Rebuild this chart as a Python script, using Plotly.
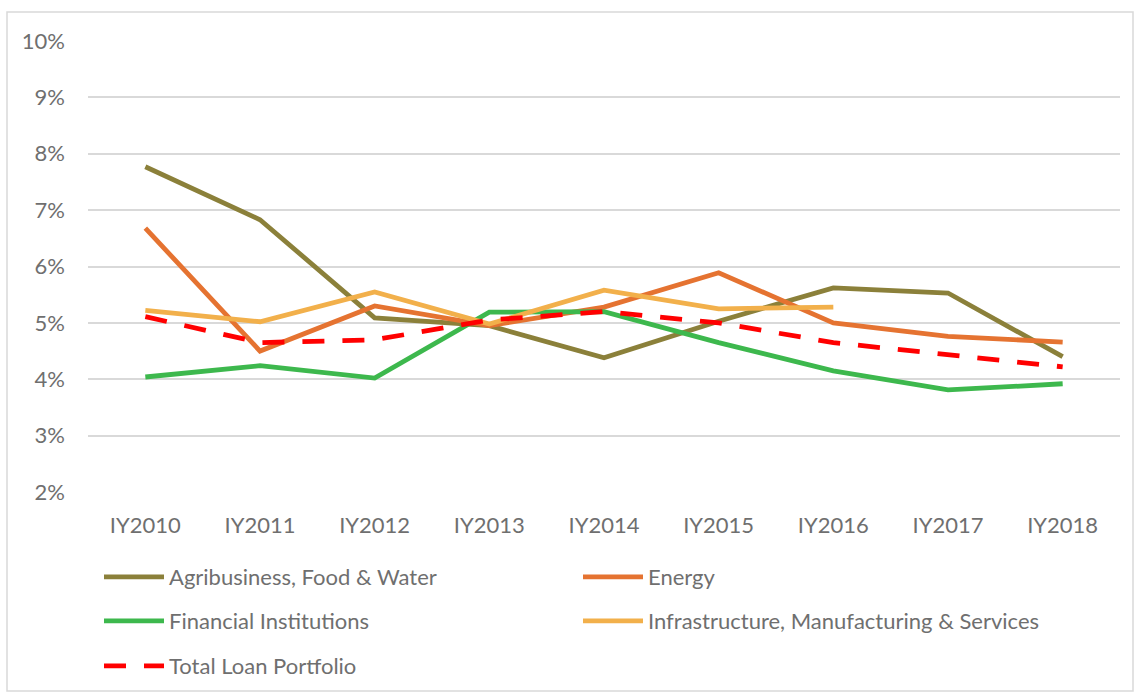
import plotly.graph_objects as go

categories = ["IY2010", "IY2011", "IY2012", "IY2013", "IY2014", "IY2015", "IY2016", "IY2017", "IY2018"]
agri = [7.77, 6.83, 5.09, 4.95, 4.38, 5.03, 5.62, 5.53, 4.40]
energy = [6.68, 4.50, 5.30, 4.95, 5.28, 5.89, 5.00, 4.76, 4.66]
financial = [4.04, 4.24, 4.02, 5.19, 5.20, 4.65, 4.15, 3.81, 3.92]
infra = [5.22, 5.02, 5.55, 4.98, 5.58, 5.25, 5.28, None, None]
total = [5.11, 4.65, 4.70, 5.05, 5.20, 5.00, 4.65, 4.43, 4.22]
y_ticks = [2, 3, 4, 5, 6, 7, 8, 9, 10]
y_tick_labels = ["2%", "3%", "4%", "5%", "6%", "7%", "8%", "9%", "10%"]

FONT = "Lato, Carlito, Liberation Sans, sans-serif"
GRAY = "#6F6F6F"
FS = 22

fig = go.Figure()
series = [
    ("Agribusiness, Food & Water", agri, "#8B803A", "solid", "legend"),
    ("Energy", energy, "#E57331", "solid", "legend"),
    ("Financial Institutions", financial, "#3DB84D", "solid", "legend2"),
    ("Infrastructure, Manufacturing & Services", infra, "#F2B04B", "solid", "legend2"),
    ("Total Loan Portfolio", total, "#FF0000", "22px,18px", "legend3"),
]
for name, vals, color, dash, lg in series:
    fig.add_trace(go.Scatter(
        x=categories, y=vals, name=name, mode="lines",
        line=dict(color=color, width=4.8, dash=dash),
        connectgaps=False, legend=lg,
    ))

W, H = 1136, 693
L, R, T, B = 88, 16, 41, 201
pw = W - L - R
ph = H - T - B

def px2paper_x(px):
    return (px - L) / pw

def py2paper_y(py):
    return 1 - (py - T) / ph

legend_common = dict(
    orientation="h", xanchor="left", yanchor="middle",
    font=dict(family=FONT, size=FS, color=GRAY),
    entrywidth=404, entrywidthmode="pixels", itemwidth=60,
    bgcolor="rgba(0,0,0,0)", traceorder="normal",
)

fig.update_layout(
    width=W, height=H,
    margin=dict(l=L, r=R, t=T, b=B, autoexpand=False),
    paper_bgcolor="white", plot_bgcolor="white",
    font=dict(family=FONT, size=FS, color=GRAY),
    showlegend=True,
    legend=dict(x=px2paper_x(99), y=py2paper_y(577), **legend_common),
    legend2=dict(x=px2paper_x(99), y=py2paper_y(621), **legend_common),
    legend3=dict(x=px2paper_x(99), y=py2paper_y(666), **legend_common),
    xaxis=dict(
        type="category", categoryorder="array", categoryarray=categories,
        range=[-0.5, len(categories) - 0.5],
        showgrid=False, zeroline=False, showline=False,
        ticks="", tickfont=dict(family=FONT, size=FS, color=GRAY),
        ticklabelstandoff=18,
    ),
    yaxis=dict(
        range=[2, 10], tickvals=y_ticks, ticktext=y_tick_labels,
        showgrid=True, gridcolor="#D9D9D9", gridwidth=1.5,
        zeroline=False, showline=False, ticks="",
        tickfont=dict(family=FONT, size=FS, color=GRAY),
        ticklabelstandoff=22,
    ),
    shapes=[dict(
        type="rect", xref="paper", yref="paper",
        x0=px2paper_x(7), x1=px2paper_x(1133),
        y0=py2paper_y(691), y1=py2paper_y(12),
        line=dict(color="#D9D9D9", width=1.5), fillcolor="rgba(0,0,0,0)",
        layer="below",
    )],
)

fig.write_html("out.html", config={"displayModeBar": False},
               post_script="document.body.style.margin='0';")
